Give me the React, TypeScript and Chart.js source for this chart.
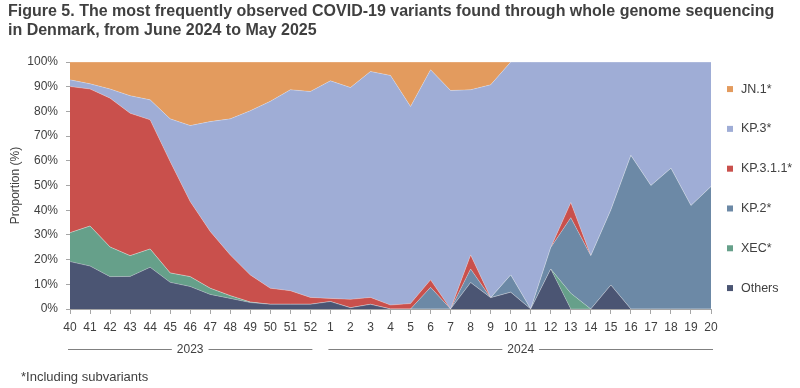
import React, { useEffect, useRef } from "react";
import { Chart, registerables } from "chart.js";

Chart.register(...registerables);

const titleLines = [
  "Figure 5. The most frequently observed COVID-19 variants found through whole genome sequencing",
  "in Denmark, from June 2024 to May 2025",
];
const footnote = "*Including subvariants";
const yTitle = "Proportion (%)";

const weeks = [
  "40", "41", "42", "43", "44", "45", "46", "47", "48", "49", "50", "51", "52",
  "1", "2", "3", "4", "5", "6", "7", "8", "9", "10", "11", "12", "13", "14", "15", "16", "17", "18", "19", "20",
];
const yearGroups = ["2023", "2024"];
const yearStart = [0, 13];
const yearEnd = [12, 32];

// stacked from bottom to top
const others = [19.2, 17.4, 13.1, 13.2, 16.9, 10.8, 9.1, 5.9, 4.3, 2.6, 1.9, 1.9, 1.9, 3.0, 0.5, 1.9, 0, 0, 0, 0, 10.7, 4.6, 6.8, 0, 16.2, 0, 0, 9.7, 0, 0, 0, 0, 0];
const xec = [11.7, 16.2, 12.0, 8.4, 7.4, 3.8, 4.0, 2.5, 1.1, 0.2, 0, 0, 0, 0, 0, 0, 0, 0, 0, 0, 0, 0, 0, 0, 0, 6.4, 0, 0, 0, 0, 0, 0, 0];
const kp2 = [0, 0, 0, 0, 0, 0, 0, 0, 0, 0, 0, 0, 0, 0, 0, 0, 0, 0, 8.8, 0, 5.5, 0, 7.0, 0, 8.7, 30.6, 21.6, 30.4, 62.2, 50.0, 57.0, 41.9, 49.6];
const kp311 = [59.2, 55.5, 60.3, 57.7, 52.3, 45.1, 30.4, 23.0, 16.5, 11.0, 6.5, 5.5, 2.8, 1.3, 3.4, 2.8, 1.6, 2.2, 3.0, 0, 5.7, 0, 0, 0, 0, 6.1, 0, 0, 0, 0, 0, 0, 0];
const kp3 = [2.7, 2.1, 3.7, 7.1, 8.1, 17.3, 30.8, 44.5, 55.1, 66.5, 75.7, 81.4, 83.4, 88.1, 85.8, 91.5, 93.0, 79.8, 85.1, 88.5, 66.9, 86.2, 86.2, 100, 75.1, 56.9, 78.4, 59.9, 37.8, 50.0, 43.0, 58.1, 50.4];
const jn1 = [7.2, 8.8, 10.9, 13.6, 15.3, 23.0, 25.7, 24.1, 23.0, 19.7, 15.9, 11.2, 11.9, 7.6, 10.3, 3.8, 5.4, 18.0, 3.1, 11.5, 11.2, 9.2, 0, 0, 0, 0, 0, 0, 0, 0, 0, 0, 0];

const seriesNames = ["Others", "XEC*", "KP.2*", "KP.3.1.1*", "KP.3*", "JN.1*"];
const seriesData = [others, xec, kp2, kp311, kp3, jn1];
const seriesColors = ["#4B5573", "#66A08A", "#6C89A6", "#C9504C", "#9FADD6", "#E39B5E"];

const FONT = "'Liberation Sans', Arial, sans-serif";
const TEXT = "#404040";
const AXIS = "#A6A6A6";

const extrasPlugin = {
  id: "extras",
  afterDraw(chart: any) {
    const ctx = chart.ctx;
    const xs = chart.scales.x;
    const area = chart.chartArea;
    ctx.save();
    // year groups
    ctx.font = `12px ${FONT}`;
    ctx.fillStyle = TEXT;
    ctx.textAlign = "center";
    ctx.textBaseline = "middle";
    ctx.strokeStyle = "#808080";
    ctx.lineWidth = 1;
    const yLine = area.bottom + 40.5;
    yearGroups.forEach((label, i) => {
      const x1 = xs.getPixelForValue(yearStart[i]) - 2;
      const x2 = xs.getPixelForValue(yearEnd[i]) + 2;
      const cx = (x1 + x2) / 2;
      const w = ctx.measureText(label).width;
      ctx.beginPath();
      ctx.moveTo(x1, yLine);
      ctx.lineTo(cx - w / 2 - 5, yLine);
      ctx.moveTo(cx + w / 2 + 5, yLine);
      ctx.lineTo(x2, yLine);
      ctx.stroke();
      ctx.fillText(label, cx, yLine);
    });
    // footnote
    ctx.font = `13px ${FONT}`;
    ctx.textAlign = "left";
    ctx.fillText(footnote, 21, area.bottom + 68);
    // legend (top entry = last dataset)
    ctx.font = `12.5px ${FONT}`;
    const lx = area.right + 16;
    const ly0 = area.top + 27;
    const step = 39.8;
    for (let k = 0; k < seriesNames.length; k++) {
      const idx = seriesNames.length - 1 - k;
      const y = ly0 + k * step;
      ctx.fillStyle = seriesColors[idx];
      ctx.fillRect(lx, y - 3, 6, 6);
      ctx.fillStyle = TEXT;
      ctx.fillText(seriesNames[idx], lx + 14, y);
    }
    ctx.restore();
  },
};

export default function App() {
  const ref = useRef<HTMLCanvasElement>(null);
  useEffect(() => {
    const canvas = ref.current;
    if (!canvas) return;
    const chart = new Chart(canvas, {
      type: "line",
      data: {
        labels: weeks,
        datasets: seriesData.map((d, i) => ({
          label: seriesNames[i],
          data: d,
          backgroundColor: seriesColors[i],
          borderColor: "rgba(255,255,255,0.35)",
          borderWidth: 0.75,
          pointRadius: 0,
          tension: 0,
          fill: i === 0 ? "origin" : "-1",
        })),
      },
      options: {
        animation: false,
        responsive: false,
        maintainAspectRatio: false,
        layout: { padding: { left: 8, right: 8, top: 0, bottom: 0 } },
        plugins: {
          legend: { display: false },
          tooltip: { enabled: false },
          title: {
            display: true,
            text: titleLines,
            align: "start",
            color: TEXT,
            font: { family: FONT, size: 16, weight: "bold", lineHeight: 1.19 },
            padding: { top: 2, bottom: 22 },
          },
        },
        scales: {
          x: {
            offset: false,
            grid: { display: true, drawOnChartArea: false, tickLength: 5, color: AXIS },
            border: { color: AXIS },
            ticks: { autoSkip: false, maxRotation: 0, color: TEXT, font: { family: FONT, size: 12 }, padding: 6 },
            afterFit: (s: any) => { s.height = 79; },
          },
          y: {
            stacked: true,
            min: 0,
            max: 100,
            grid: { display: true, drawOnChartArea: false, tickLength: 4, color: AXIS },
            border: { color: AXIS },
            ticks: { stepSize: 10, color: TEXT, font: { family: FONT, size: 12 }, padding: 8, callback: (v: any) => v + "%" },
            title: { display: true, text: yTitle, color: TEXT, font: { family: FONT, size: 12 }, padding: 0 },
            afterFit: (s: any) => { s.width = 62; },
          },
          legendSpace: {
            type: "linear",
            position: "right",
            display: true,
            min: 0,
            max: 1,
            grid: { display: false, drawTicks: false },
            border: { display: false },
            ticks: { display: false },
            afterFit: (s: any) => { s.width = 81; },
          },
        },
      },
      plugins: [extrasPlugin],
    });
    return () => chart.destroy();
  }, []);
  return (
    <div style={{ position: "absolute", left: 0, top: 0, width: 800, height: 388, background: "#fff" }}>
      <canvas ref={ref} width={800} height={388} style={{ display: "block", width: 800, height: 388 }} />
    </div>
  );
}
